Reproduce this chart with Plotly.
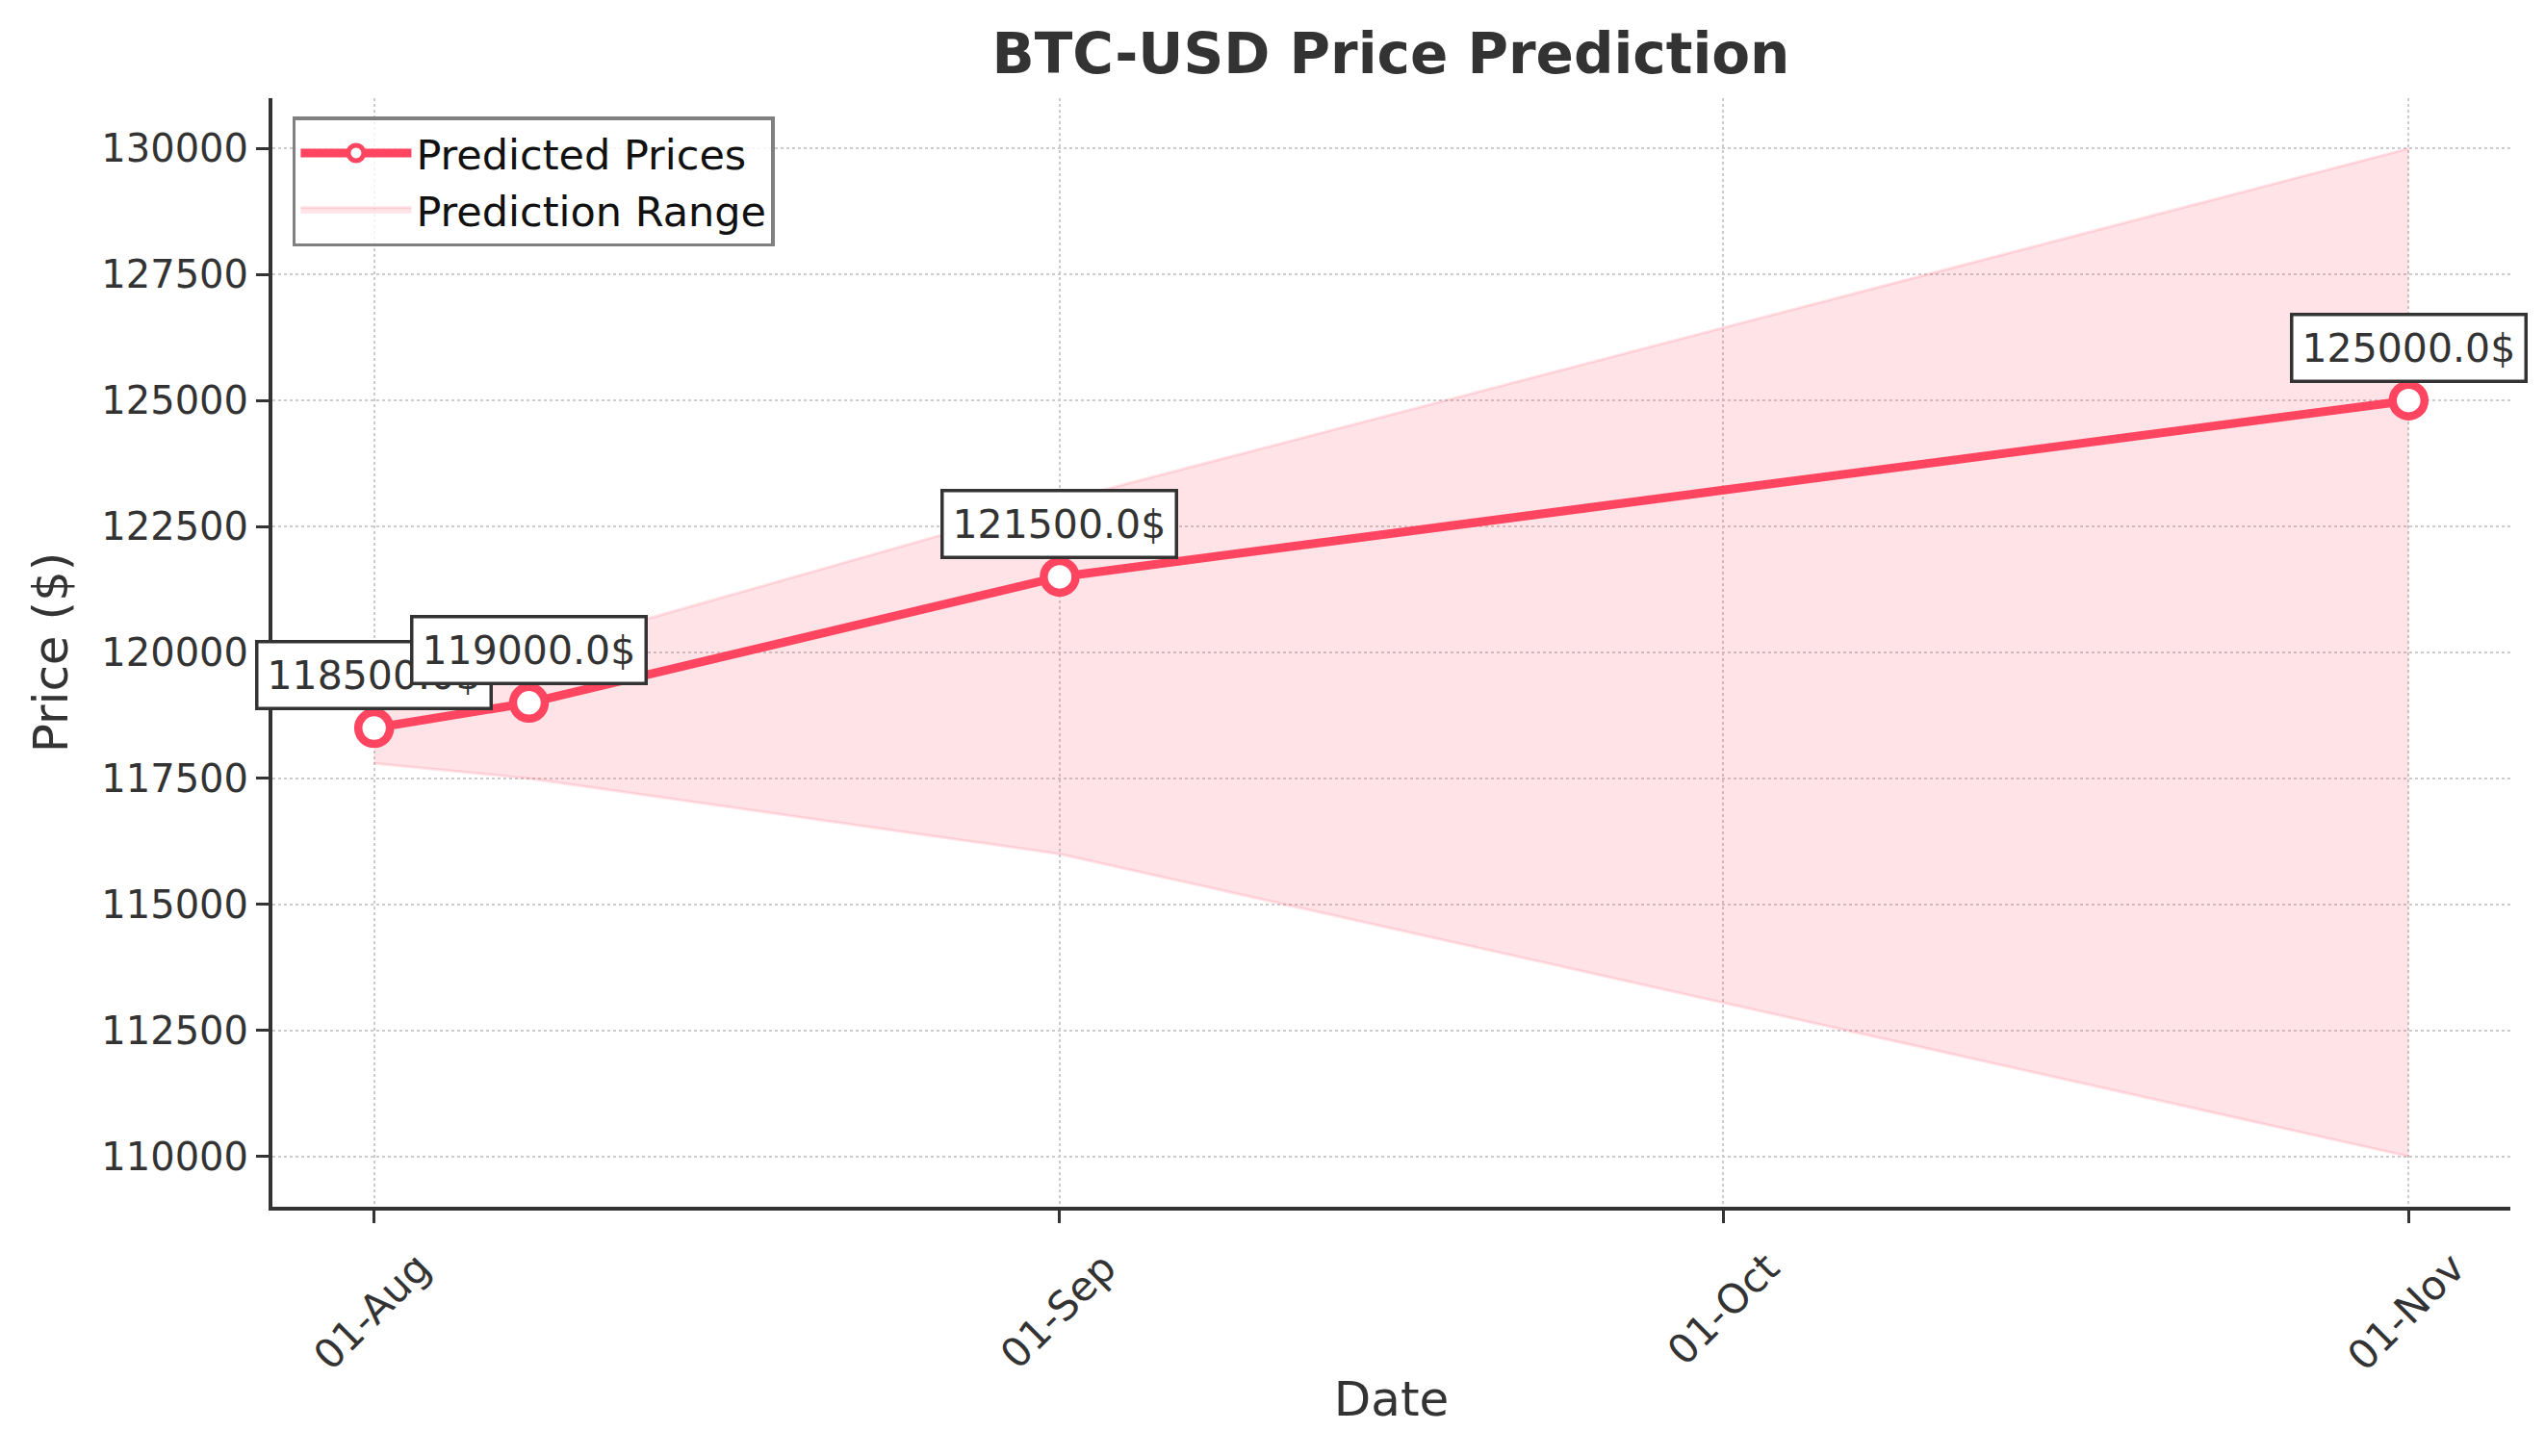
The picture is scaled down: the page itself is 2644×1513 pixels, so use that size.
import plotly.graph_objects as go
import pandas as pd

# ---- data ----
dates = ["2025-08-01", "2025-08-08", "2025-09-01", "2025-11-01"]
predicted = [118500, 119000, 121500, 125000]
lower_bound = [117800, 117500, 116000, 110000]
upper_bound = [119200, 120000, 123000, 130000]
x_tick_dates = ["2025-08-01", "2025-09-01", "2025-10-01", "2025-11-01"]
x_tick_labels = ["01-Aug", "01-Sep", "01-Oct", "01-Nov"]

LINE = "#FF4560"
FILL = "rgba(255,69,96,0.15)"
EDGE = "rgba(255,69,96,0.15)"
TXT = "#333333"
FONT = "DejaVu Sans"

W, H = 2636, 1505  # page body has an 8px margin

d = pd.to_datetime(dates)
span = d.max() - d.min()
xr = [d.min() - span * 0.05, d.max() + span * 0.05]
yspan = max(upper_bound) - min(lower_bound)
yr = [min(lower_bound) - yspan * 0.05, max(upper_bound) + yspan * 0.05]

fig = go.Figure()
fig.add_trace(go.Scatter(x=d, y=lower_bound, mode="lines",
                         line=dict(color=EDGE, width=3),
                         showlegend=False, hoverinfo="skip"))
fig.add_trace(go.Scatter(x=d, y=upper_bound, mode="lines", fill="tonexty",
                         fillcolor=FILL, line=dict(color=EDGE, width=3),
                         name="Prediction Range"))
fig.add_trace(go.Scatter(x=d, y=predicted, mode="lines+markers",
                         line=dict(color=LINE, width=9),
                         marker=dict(size=33, color="white",
                                     line=dict(color=LINE, width=8.5)),
                         name="Predicted Prices"))

for xi, yi in zip(d, predicted):
    fig.add_annotation(x=xi, y=yi, text=f"{float(yi):.1f}$", showarrow=False,
                       yshift=55, xanchor="center", yanchor="middle",
                       font=dict(family=FONT, size=41, color=TXT),
                       bgcolor="white", bordercolor=TXT, borderwidth=3.5,
                       borderpad=9)

fig.update_layout(
    width=W, height=H,
    margin=dict(l=275, r=36, t=94, b=259),
    paper_bgcolor="white", plot_bgcolor="white",
    font=dict(family=FONT, size=40, color=TXT),
    title=dict(text="<b>BTC-USD Price Prediction</b>", x=1437 / W,
               xanchor="center", y=1 - 48 / H, yanchor="middle",
               yref="container", font=dict(family=FONT, size=58, color=TXT)),
    legend=dict(x=0.009, y=0.9835, xanchor="left", yanchor="top",
                bgcolor="rgba(255,255,255,0.8)", bordercolor="#808080",
                borderwidth=3.5, font=dict(family=FONT, size=43, color="#111111"),
                traceorder="reversed", itemwidth=115, tracegroupgap=0),
    showlegend=True,
)

fig.update_xaxes(
    range=xr, tickvals=pd.to_datetime(x_tick_dates), ticktext=x_tick_labels,
    tickangle=-45, ticklabelshift=46, ticklabelstandoff=5,
    ticks="outside", ticklen=13, tickwidth=3, tickcolor=TXT,
    showline=True, linecolor=TXT, linewidth=4, mirror=False,
    showgrid=True, gridcolor="#CCCCCC", gridwidth=2, griddash="dot",
    zeroline=False,
    tickfont=dict(family=FONT, size=42, color=TXT),
    title=dict(text="Date", font=dict(family=FONT, size=50, color=TXT), standoff=4),
)
fig.update_yaxes(
    range=yr, tick0=110000, dtick=2500, tickformat="d",
    ticks="outside", ticklen=13, tickwidth=3, tickcolor=TXT,
    showline=True, linecolor=TXT, linewidth=4, mirror=False,
    showgrid=True, gridcolor="#CCCCCC", gridwidth=2, griddash="dot",
    zeroline=False,
    tickfont=dict(family=FONT, size=40, color=TXT),
    title=dict(text="Price ($)", font=dict(family=FONT, size=50, color=TXT), standoff=20),
)

fig.write_html("out.html")
